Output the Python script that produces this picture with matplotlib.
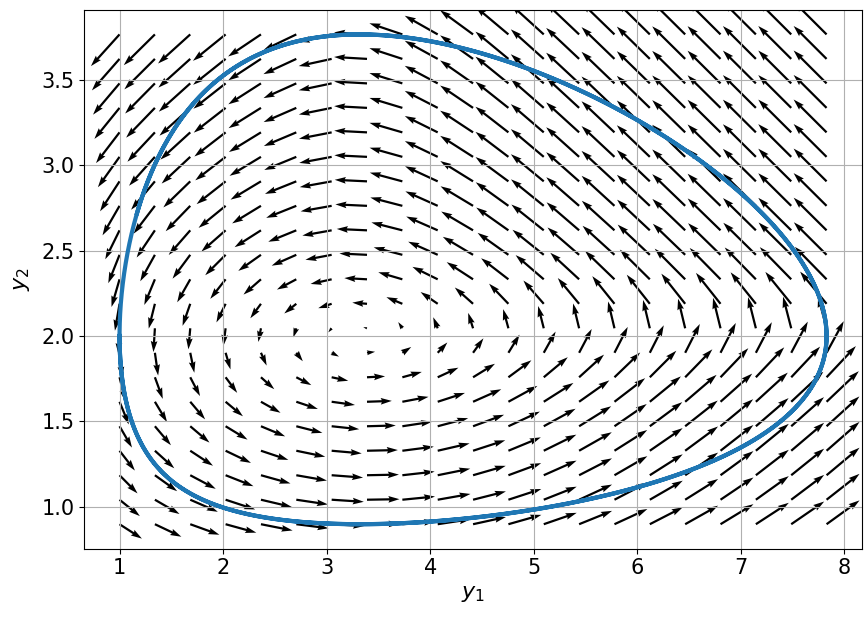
import numpy as np
import matplotlib
matplotlib.use('Agg')
import matplotlib.pyplot as plt

# predator-prey (Lotka-Volterra) model, parameters
# equilibrium sits near (3.3, 2.0), orbit starts at (1, 2)
alpha, beta = 1.5, 0.75
gamma, delta = 0.75, 0.226
y_start = [1.0, 2.0]
t_end, dt = 12.0, 0.002
n_grid = 21  # arrows per axis


def rhs(y):
    y1, y2 = y
    return np.array([y1 * (alpha - beta * y2), y2 * (-gamma + delta * y1)])


# integrate one orbit with plain RK4
n_steps = int(t_end / dt)
traj = np.empty((n_steps + 1, 2))
traj[0] = y_start
for i in range(n_steps):
    y = traj[i]
    k1 = rhs(y)
    k2 = rhs(y + 0.5 * dt * k1)
    k3 = rhs(y + 0.5 * dt * k2)
    k4 = rhs(y + dt * k3)
    traj[i + 1] = y + dt / 6 * (k1 + 2 * k2 + 2 * k3 + k4)

# direction field on the bounding box of the orbit
g1 = np.linspace(traj[:, 0].min(), traj[:, 0].max(), n_grid)
g2 = np.linspace(traj[:, 1].min(), traj[:, 1].max(), n_grid)
Y1, Y2 = np.meshgrid(g1, g2)
dY1, dY2 = rhs([Y1, Y2])
# squash each component so the big arrows do not swamp the plot
U, V = np.tanh(dY1), np.tanh(dY2)

fig = plt.figure(figsize=(8.68, 6.2), dpi=100)
ax = fig.add_axes([0.097, 0.115, 0.896, 0.869])
ax.quiver(Y1, Y2, U, V, scale=23.6)
ax.plot(traj[:, 0], traj[:, 1], color='#1f77b4', linewidth=3)
ax.grid(True)
ax.set_xlabel('$y_1$', fontsize=16)
ax.set_ylabel('$y_2$', fontsize=16, labelpad=7)
ax.tick_params(labelsize=15)

plt.savefig('out.png', dpi=100)
